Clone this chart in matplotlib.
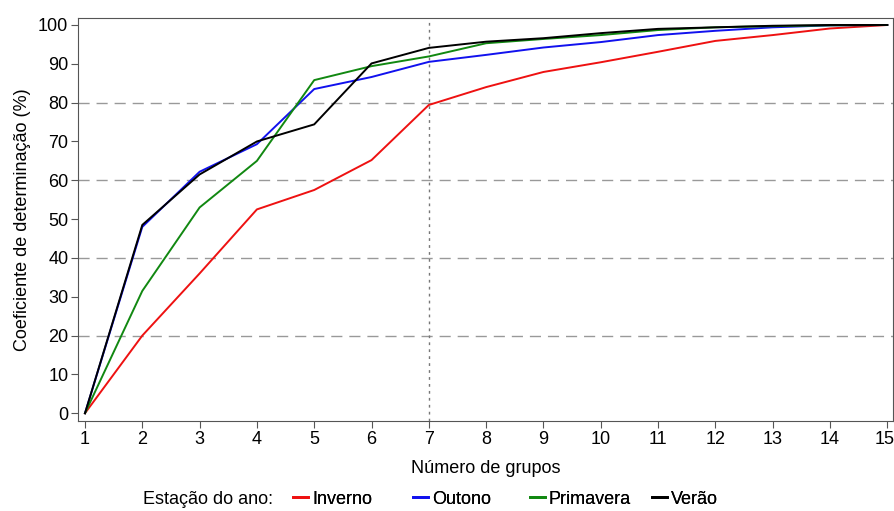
import numpy as np
import matplotlib.pyplot as plt
import matplotlib.transforms as mtransforms
from matplotlib.lines import Line2D

plt.rcParams['font.family'] = ['Liberation Sans', 'DejaVu Sans']

grupos = list(range(1, 16))
inverno = [0, 20, 36, 52.5, 57.5, 65.2, 79.4, 84, 87.9, 90.4, 93.1, 95.9, 97.4, 99.1, 100]
outono = [0, 48, 62.2, 69.3, 83.5, 86.6, 90.5, 92.3, 94.2, 95.6, 97.4, 98.5, 99.4, 99.9, 100]
primavera = [0, 31.5, 53, 65, 85.8, 89.4, 91.9, 95.3, 96.4, 97.4, 98.7, 99.4, 99.7, 99.9, 100]
verao = [0, 48.5, 61.5, 70, 74.4, 90.1, 94.1, 95.7, 96.6, 97.9, 99, 99.4, 99.8, 100, 100]

nomes = ['Inverno', 'Outono', 'Primavera', 'Verão']
cores = ['#ee1111', '#1111ee', '#118811', '#000000']

fs = 13

fig = plt.figure(figsize=(8.95, 5.11), dpi=100)
ax = fig.add_axes([78 / 895, 1 - 421 / 511, 815 / 895, 403 / 511])

for yv in [20, 40, 60, 80]:
    ax.axhline(yv, color='#999999', lw=1, ls=(0, (8, 5)), zorder=1)
ax.axvline(7, color='#777777', lw=1, ls=(0, (2, 3)), zorder=1)

for serie, nome, cor in zip([inverno, outono, primavera, verao], nomes, cores):
    ax.plot(grupos, serie, color=cor, lw=1.4, label=nome, zorder=3)

ax.set_xlim(0.878, 15.1)
ax.set_ylim(-2, 101.8)
ax.set_xticks(grupos)
ax.set_yticks(range(0, 101, 10))
ax.tick_params(direction='out', length=5, labelsize=fs, color='#555555', pad=2)
for sp in ax.spines.values():
    sp.set_color('#555555')

# o ultimo rotulo (15) fica encostado na borda, puxa um pouco pra esquerda
ultimo = ax.get_xticklabels()[-1]
ultimo.set_transform(ultimo.get_transform() +
                     mtransforms.ScaledTranslation(-3 / 100, 0, fig.dpi_scale_trans))

ax.set_xlabel('Número de grupos', fontsize=fs, labelpad=9)
ax.set_ylabel('Coeficiente de determinação (%)', fontsize=fs, labelpad=5)

# legenda na parte de baixo
fig.text(143 / 895, 1 - 499 / 511, 'Estação do ano:', fontsize=fs, va='center')
pos_leg = [293, 413, 530, 652]
for nome, cor, px in zip(nomes, cores, pos_leg):
    h = Line2D([], [], color=cor, lw=2)
    leg = fig.legend([h], [nome], loc='center left', bbox_to_anchor=(px / 895, 1 - 499 / 511),
                     frameon=False, fontsize=fs, handlelength=0.85, handletextpad=0.2,
                     borderaxespad=0, borderpad=0)
    fig.add_artist(leg)

fig.savefig('out.png', dpi=100)
